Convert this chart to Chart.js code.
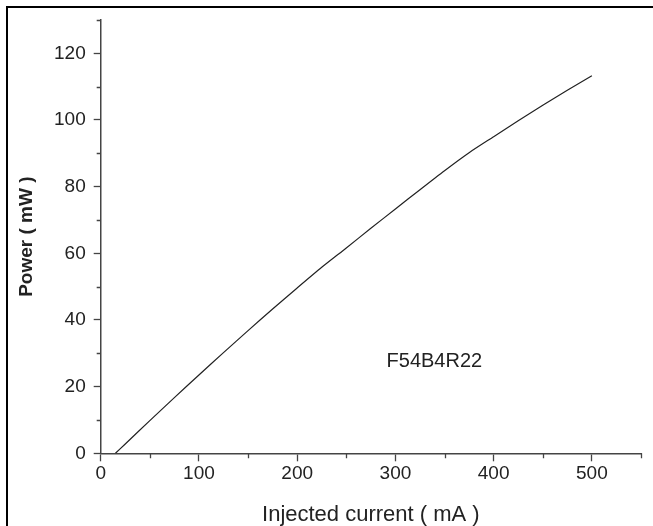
<!DOCTYPE html>
<html>
<head>
<meta charset="utf-8">
<script src="https://cdn.jsdelivr.net/npm/chart.js@4.4.1/dist/chart.umd.min.js"></script>
<style>
  html, body { margin: 0; padding: 0; background: #fff; }
  #wrap { position: relative; width: 653px; height: 526px; overflow: hidden; }
  #frame { position: absolute; left: 6px; top: 6px; width: 660px; height: 540px;
           border-top: 2.5px solid #000; border-left: 2.5px solid #000; box-sizing: border-box; pointer-events: none; }
  canvas { position: absolute; left: 0; top: 0; }
</style>
</head>
<body>
<div id="wrap">
  <canvas id="c" width="653" height="526"></canvas>
  <div id="frame"></div>
</div>
<script>
// ---- data ----
const currentValues = [15, 25, 50, 75, 100, 125, 150, 175, 200, 225, 250, 275, 300, 325, 350, 375, 400, 425, 450, 475, 500];
const powerValues   = [0, 2.8, 9.8, 16.7, 23.5, 30.2, 36.8, 43.3, 49.6, 55.8, 61.6, 67.5, 73.3, 79.1, 84.8, 90.2, 95.0, 99.8, 104.4, 108.9, 113.3];
const xTickValues = [0, 100, 200, 300, 400, 500];
const yTickValues = [0, 20, 40, 60, 80, 100, 120];
const xMinorValues = [50, 150, 250, 350, 450, 550];
const yMinorValues = [10, 30, 50, 70, 90, 110, 130];
const annotationText = 'F54B4R22';
const xTitle = 'Injected current ( mA )';
const yTitle = 'Power ( mW )';

const AXIS = '#444';
const TXT = '#222';

const minorTicks = {
  id: 'minorTicks',
  afterDraw(chart) {
    const ctx = chart.ctx;
    const xs = chart.scales.x, ys = chart.scales.y;
    ctx.save();
    ctx.strokeStyle = AXIS;
    ctx.lineWidth = 1.3;
    ctx.beginPath();
    yMinorValues.forEach(v => {
      const py = Math.round(ys.getPixelForValue(v)) + 0.5;
      ctx.moveTo(ys.right - 4, py);
      ctx.lineTo(ys.right, py);
    });
    xMinorValues.forEach(v => {
      const px = Math.round(xs.getPixelForValue(v)) + 0.5;
      ctx.moveTo(px, xs.top);
      ctx.lineTo(px, xs.top + 5);
    });
    ctx.stroke();
    // annotation
    ctx.fillStyle = TXT;
    ctx.font = '20px "Liberation Sans", Arial, sans-serif';
    ctx.textAlign = 'left';
    ctx.textBaseline = 'middle';
    ctx.fillText(annotationText, xs.getPixelForValue(291), ys.getPixelForValue(27.4));
    ctx.restore();
  }
};

new Chart(document.getElementById('c'), {
  type: 'line',
  data: {
    datasets: [{
      data: currentValues.map((x, i) => ({ x: x, y: powerValues[i] })),
      borderColor: '#222',
      borderWidth: 1.2,
      pointRadius: 0,
      tension: 0.2,
      fill: false
    }]
  },
  options: {
    responsive: false,
    animation: false,
    devicePixelRatio: 1,
    layout: { padding: { left: 0, top: 20, right: 12, bottom: 0 } },
    plugins: { legend: { display: false }, tooltip: { enabled: false } },
    scales: {
      x: {
        type: 'linear',
        min: 0, max: 550,
        afterFit(s) { s.height = 72.7; },
        afterBuildTicks(s) { s.ticks = xTickValues.map(v => ({ value: v })); },
        grid: { drawOnChartArea: false, drawTicks: true, tickLength: 8, tickColor: AXIS, tickWidth: 1.3 },
        border: { color: AXIS, width: 1.5 },
        ticks: { color: TXT, padding: 1, maxRotation: 0, font: { family: '"Liberation Sans", Arial, sans-serif', size: 19 } },
        title: { display: true, text: xTitle, color: TXT, padding: 0,
                 font: { family: '"Liberation Sans", Arial, sans-serif', size: 22, lineHeight: 1 } }
      },
      y: {
        type: 'linear',
        min: 0, max: 130,
        afterFit(s) { s.width = 100.7; },
        afterBuildTicks(s) { s.ticks = yTickValues.map(v => ({ value: v })); },
        grid: { drawOnChartArea: false, drawTicks: true, tickLength: 7, tickColor: AXIS, tickWidth: 1.3 },
        border: { color: AXIS, width: 1.5 },
        ticks: { color: TXT, padding: 8, font: { family: '"Liberation Sans", Arial, sans-serif', size: 19 } },
        title: { display: true, text: yTitle, color: TXT, padding: { top: 17.5, bottom: 0 },
                 font: { family: '"Liberation Sans", Arial, sans-serif', size: 19, weight: 'bold', lineHeight: 1 } }
      }
    }
  },
  plugins: [minorTicks]
});
</script>
</body>
</html>
